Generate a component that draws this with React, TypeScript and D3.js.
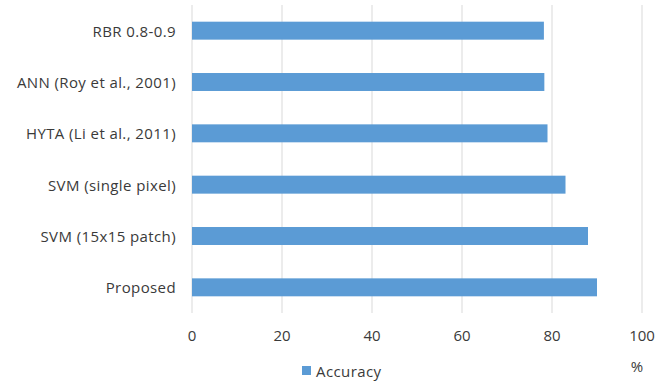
import React from "react";
import * as d3 from "d3";

const categories = [
  "RBR 0.8-0.9",
  "ANN (Roy et al., 2001)",
  "HYTA (Li et al., 2011)",
  "SVM (single pixel)",
  "SVM (15x15 patch)",
  "Proposed",
];
const accuracy = [78.2, 78.3, 79, 83, 88, 90];
const xTicks = [0, 20, 40, 60, 80, 100];
const seriesName = "Accuracy";
const unitLabel = "%";

const W = 667;
const H = 382;
const plot = { left: 192, right: 642, top: 5, bottom: 313 };
const FONT = "'Open Sans', sans-serif";
const TEXT = "#3a3a3a";
const BAR = "#5B9BD5";
const GRID = "#D9D9D9";

export default function App() {
  const x = d3.scaleLinear().domain([0, 100]).range([plot.left, plot.right]);
  const y = d3
    .scaleBand<string>()
    .domain(categories)
    .range([plot.top, plot.bottom])
    .paddingInner(0.65)
    .paddingOuter(0.325);

  return (
    <svg
      width={W}
      height={H}
      style={{ position: "absolute", left: 0, top: 0, background: "#fff" }}
      fontFamily={FONT}
    >
      {xTicks.map((t) => (
        <line
          key={`g${t}`}
          x1={x(t)}
          x2={x(t)}
          y1={plot.top}
          y2={plot.bottom}
          stroke={GRID}
          strokeWidth={1}
        />
      ))}
      {categories.map((c, i) => (
        <g key={c}>
          <rect
            x={x(0)}
            y={y(c)}
            width={x(accuracy[i]) - x(0)}
            height={y.bandwidth()}
            fill={BAR}
          />
          <text
            x={x(0) - 16}
            y={(y(c) as number) + y.bandwidth() / 2}
            textAnchor="end"
            dominantBaseline="central"
            fontSize={15}
            letterSpacing={0.4}
            fill={TEXT}
          >
            {c}
          </text>
        </g>
      ))}
      {xTicks.map((t) => (
        <text
          key={`t${t}`}
          x={x(t)}
          y={335}
          textAnchor="middle"
          dominantBaseline="central"
          fontSize={15}
          fill={TEXT}
        >
          {t}
        </text>
      ))}
      <text
        x={x(100) - 5}
        y={366}
        textAnchor="middle"
        dominantBaseline="central"
        fontSize={15}
        fill={TEXT}
      >
        {unitLabel}
      </text>
      <rect x={302} y={366} width={9} height={9} fill={BAR} />
      <text
        x={316}
        y={371}
        dominantBaseline="central"
        fontSize={15}
        letterSpacing={0.4}
        fill={TEXT}
      >
        {seriesName}
      </text>
    </svg>
  );
}
